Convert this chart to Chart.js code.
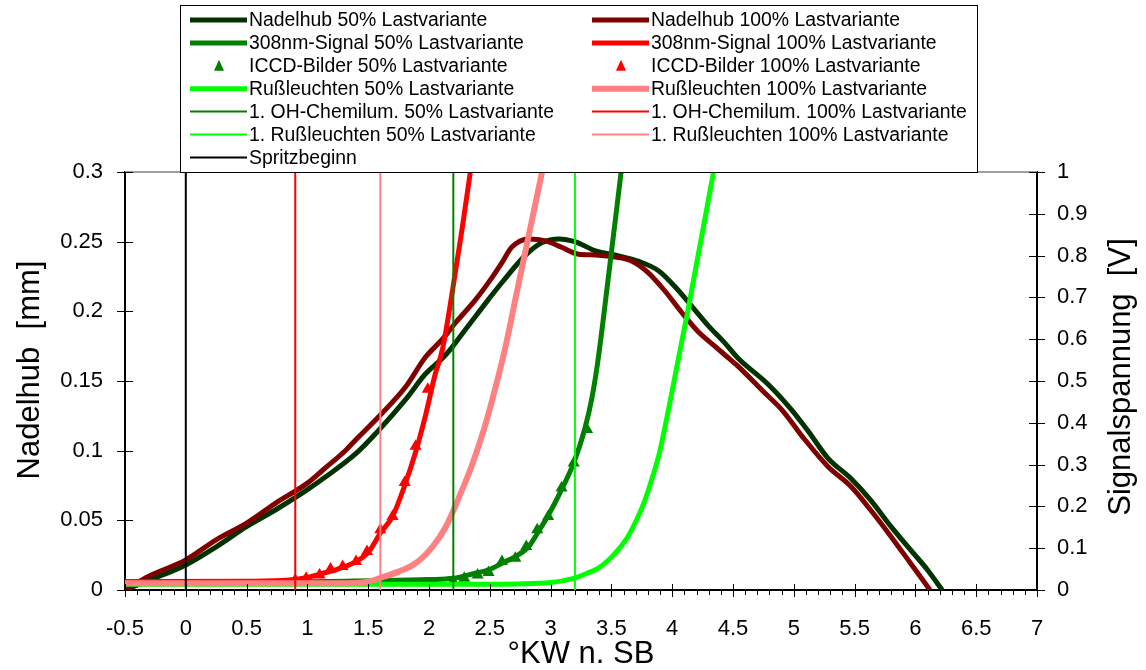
<!DOCTYPE html>
<html lang="de">
<head>
<meta charset="UTF-8">
<title>Nadelhub und Signalspannung</title>
<script src="https://cdn.jsdelivr.net/npm/chart.js"></script>
<style>
    body { margin: 0; background: #fff; }
    #wrap { width: 1146px; height: 670px; position: relative; }
</style>
</head>
<body>
<div id="wrap"><canvas id="chart"></canvas></div>
<script>
    // axis ticks
    const xTicks = [-0.5, 0, 0.5, 1, 1.5, 2, 2.5, 3, 3.5, 4, 4.5, 5, 5.5, 6, 6.5, 7];
    const mmTicks = [0, 0.05, 0.1, 0.15, 0.2, 0.25, 0.3];
    const vTicks = [0, 0.1, 0.2, 0.3, 0.4, 0.5, 0.6, 0.7, 0.8, 0.9, 1];

    // Nadelhub [mm] over °KW n. SB
    const nadelhub50 = [[-0.5,0],[-0.3,0.007],[0,0.018],[0.25,0.031],[0.5,0.0455],[0.74,0.0576],[1.0,0.072],[1.13,0.08],
        [1.4,0.098],[1.59,0.115],[1.81,0.137],[1.97,0.155],[2.14,0.169],[2.3,0.187],[2.49,0.2086],[2.6,0.2207],[2.79,0.24],
        [2.93,0.2494],[3.07,0.252],[3.2,0.25],[3.37,0.2434],[3.56,0.2398],[3.72,0.236],[3.89,0.229],[4.02,0.218],[4.16,0.2038],
        [4.3,0.1894],[4.43,0.1775],[4.54,0.1665],[4.79,0.1475],[4.98,0.1295],[5.11,0.115],[5.28,0.0947],[5.47,0.08],
        [5.63,0.0647],[5.8,0.0455],[5.96,0.0288],[6.1,0.0144],[6.22,0]];
    const nadelhub100 = [[-0.5,0],[-0.3,0.01],[0,0.0216],[0.25,0.036],[0.5,0.048],[0.74,0.0624],[1.0,0.0767],[1.13,0.0863],
        [1.32,0.1007],[1.4,0.108],[1.59,0.1247],[1.81,0.146],[1.97,0.167],[2.11,0.18],[2.22,0.192],[2.38,0.208],[2.5,0.222],
        [2.6,0.235],[2.68,0.246],[2.82,0.252],[2.96,0.2506],[3.09,0.246],[3.23,0.241],[3.37,0.2405],[3.56,0.2386],[3.67,0.236],
        [3.8,0.228],[3.94,0.2146],[4.08,0.199],[4.21,0.1857],[4.35,0.175],[4.46,0.1667],[4.54,0.1607],[4.76,0.1415],
        [4.9,0.1295],[5.09,0.108],[5.28,0.0887],[5.47,0.0743],[5.63,0.0576],[5.8,0.0383],[5.96,0.0192],[6.12,0]];

    // Signalspannung [V]
    const sig308_50 = [[-0.5,0.02],[1.0,0.02],[1.5,0.022],[2.0,0.025],[2.2,0.028],[2.38,0.04],[2.49,0.048],[2.6,0.064],
        [2.71,0.08],[2.82,0.104],[2.9,0.14],[2.98,0.178],[3.09,0.24],[3.19,0.304],[3.28,0.384],[3.34,0.46],[3.39,0.55],
        [3.48,0.76],[3.58,1.0]];
    const sig308_100 = [[-0.5,0.02],[0.5,0.021],[0.85,0.024],[1.0,0.03],[1.13,0.04],[1.25,0.05],[1.4,0.068],[1.5,0.09],
        [1.6,0.136],[1.7,0.176],[1.8,0.25],[1.89,0.33],[1.97,0.416],[2.05,0.515],[2.11,0.575],[2.19,0.71],[2.27,0.86],[2.34,1.0]];
    const iccd50 = [[2.2,0.02],[2.29,0.028],[2.4,0.036],[2.49,0.042],[2.6,0.068],[2.71,0.076],[2.8,0.104],[2.89,0.144],
        [2.98,0.176],[3.09,0.244],[3.19,0.304],[3.3,0.384]];
    const iccd100 = [[0.9,0.024],[0.99,0.028],[1.1,0.036],[1.19,0.05],[1.29,0.056],[1.4,0.068],[1.49,0.092],[1.6,0.144],
        [1.7,0.176],[1.8,0.257],[1.89,0.344],[1.99,0.48]];
    const russ50 = [[-0.5,0.014],[2.5,0.014],[3.0,0.018],[3.19,0.028],[3.3,0.04],[3.39,0.052],[3.47,0.07],[3.55,0.094],
        [3.64,0.13],[3.72,0.176],[3.78,0.218],[3.84,0.272],[3.89,0.322],[3.97,0.432],[4.05,0.552],[4.13,0.67],[4.34,1.0]];
    const russ100 = [[-0.5,0.016],[1.0,0.016],[1.4,0.017],[1.5,0.02],[1.59,0.028],[1.75,0.044],[1.89,0.064],[2.03,0.104],
        [2.14,0.152],[2.25,0.224],[2.36,0.304],[2.46,0.392],[2.55,0.488],[2.63,0.583],[2.71,0.695],[2.93,1.0]];

    // Zeitpunkte (°KW n. SB)
    const ohStart50 = 2.2, ohStart100 = 0.9;
    const russStart50 = 3.2, russStart100 = 1.6;
    const spritzbeginn = 0;

    const pts = arr => arr.map(([x, y]) => ({x, y}));
    const vline = v => [{x: v, y: 0}, {x: v, y: 1}];

    function curve(label, data, color, width, axis) {
        return { label, data: pts(data), borderColor: color, backgroundColor: color, borderWidth: width,
            pointRadius: 0, cubicInterpolationMode: 'monotone', yAxisID: axis, kind: 'line' };
    }
    function marks(label, data, color) {
        return { label, data: pts(data), borderColor: color, backgroundColor: color, showLine: false,
            pointStyle: 'triangle', pointRadius: 7, pointBorderWidth: 0, yAxisID: 'yR', kind: 'tri' };
    }
    function marker(label, v, color) {
        return { label, data: vline(v), borderColor: color, backgroundColor: color, borderWidth: 2,
            pointRadius: 0, tension: 0, yAxisID: 'yR', kind: 'line' };
    }

    const datasets = [
        curve('Nadelhub 50% Lastvariante', nadelhub50, '#003300', 5, 'yL'),
        curve('Nadelhub 100% Lastvariante', nadelhub100, '#800000', 5, 'yL'),
        curve('308nm-Signal 50% Lastvariante', sig308_50, '#008000', 5, 'yR'),
        curve('308nm-Signal 100% Lastvariante', sig308_100, '#ff0000', 5, 'yR'),
        marks('ICCD-Bilder 50% Lastvariante', iccd50, '#008000'),
        marks('ICCD-Bilder 100% Lastvariante', iccd100, '#ff0000'),
        curve('Rußleuchten 50% Lastvariante', russ50, '#00ff00', 5, 'yR'),
        curve('Rußleuchten 100% Lastvariante', russ100, '#ff8080', 6, 'yR'),
        marker('1. OH-Chemilum. 50% Lastvariante', ohStart50, '#008000'),
        marker('1. OH-Chemilum. 100% Lastvariante', ohStart100, '#ff0000'),
        marker('1. Rußleuchten 50% Lastvariante', russStart50, '#00ff00'),
        marker('1. Rußleuchten 100% Lastvariante', russStart100, '#ff8080'),
        marker('Spritzbeginn', spritzbeginn, '#000000')
    ];
    // later series on top, like the original
    datasets.forEach((d, i) => { d.order = -i; });

    const FONT = "'Liberation Sans', Arial, sans-serif";
    const fmt = v => String(Math.round(v * 100) / 100);

    function vTitle(ctx, text, x, y) {
        ctx.save();
        ctx.fillStyle = '#000';
        ctx.font = '31px ' + FONT;
        ctx.textAlign = 'center';
        ctx.textBaseline = 'middle';
        ctx.translate(x, y);
        ctx.rotate(-Math.PI / 2);
        ctx.fillText(text, 0, 0);
        ctx.restore();
    }

    // tick marks, top frame, axis titles and the boxed legend
    const frame = {
        id: 'frame',
        afterDraw(chart) {
            const {ctx, chartArea: a, scales: {x, yL, yR}} = chart;
            ctx.save();
            ctx.strokeStyle = '#a0a0a0';
            ctx.lineWidth = 2;
            ctx.beginPath();
            ctx.moveTo(a.left, a.top);
            ctx.lineTo(a.right, a.top);
            ctx.stroke();

            ctx.strokeStyle = '#000';
            ctx.lineWidth = 1;
            ctx.beginPath();
            for (let k = -5; k <= 70; k++) {
                const px = Math.round(x.getPixelForValue(k / 10)) + 0.5;
                ctx.moveTo(px, a.bottom);
                ctx.lineTo(px, a.bottom + 5);
            }
            xTicks.forEach(v => {
                const px = Math.round(x.getPixelForValue(v)) + 0.5;
                ctx.moveTo(px, a.bottom - 6);
                ctx.lineTo(px, a.bottom + 7);
            });
            mmTicks.forEach(v => {
                const py = Math.round(yL.getPixelForValue(v)) + 0.5;
                ctx.moveTo(a.left - 8, py);
                ctx.lineTo(a.left + 8, py);
            });
            vTicks.forEach(v => {
                const py = Math.round(yR.getPixelForValue(v)) + 0.5;
                ctx.moveTo(a.right - 8, py);
                ctx.lineTo(a.right + 8, py);
            });
            ctx.stroke();
            ctx.restore();

            vTitle(ctx, 'Nadelhub  [mm]', 30, 370);
            vTitle(ctx, 'Signalspannung  [V]', 1121, 377);

            // legend
            ctx.save();
            ctx.fillStyle = '#fff';
            ctx.fillRect(180, 5, 798, 167);
            ctx.strokeStyle = '#000';
            ctx.lineWidth = 1;
            ctx.strokeRect(180.5, 5.5, 797, 167);
            ctx.font = '19.4px ' + FONT;
            ctx.textBaseline = 'middle';
            ctx.textAlign = 'left';
            chart.data.datasets.forEach((d, i) => {
                const col = i < 12 ? i % 2 : 0;
                const row = i < 12 ? Math.floor(i / 2) : 6;
                const x0 = col === 0 ? 190 : 592;
                const y0 = 20 + row * 22.9;
                if (d.kind === 'tri') {
                    const cx = x0 + 29;
                    ctx.fillStyle = d.borderColor;
                    ctx.beginPath();
                    ctx.moveTo(cx, y0 - 6);
                    ctx.lineTo(cx + 5, y0 + 5);
                    ctx.lineTo(cx - 5, y0 + 5);
                    ctx.closePath();
                    ctx.fill();
                } else {
                    ctx.strokeStyle = d.borderColor;
                    ctx.lineWidth = d.borderWidth;
                    ctx.beginPath();
                    ctx.moveTo(x0, y0);
                    ctx.lineTo(x0 + 57, y0);
                    ctx.stroke();
                }
                ctx.fillStyle = '#000';
                ctx.fillText(d.label, x0 + 59, y0 + 1);
            });
            ctx.restore();
        }
    };

    new Chart(document.getElementById('chart').getContext('2d'), {
        type: 'line',
        data: { datasets },
        options: {
            responsive: true,
            maintainAspectRatio: false,
            animation: false,
            layout: { padding: { top: 172, left: 0, right: 0, bottom: 0 } },
            plugins: { legend: { display: false }, tooltip: { enabled: false } },
            scales: {
                x: {
                    type: 'linear', position: 'bottom', min: -0.5, max: 7,
                    afterBuildTicks: s => { s.ticks = xTicks.map(v => ({value: v})); },
                    afterFit: s => { s.height = 80; },
                    ticks: { font: { family: FONT, size: 22 }, color: '#000', padding: 26, maxRotation: 0, autoSkip: false, callback: fmt },
                    grid: { display: false, drawTicks: false },
                    border: { display: true, color: '#000', width: 2 },
                    title: { display: true, text: '°KW n. SB', color: '#000', font: { family: FONT, size: 31 }, padding: { top: 0, bottom: -3 } }
                },
                yL: {
                    type: 'linear', position: 'left', min: 0, max: 0.3,
                    afterBuildTicks: s => { s.ticks = mmTicks.map(v => ({value: v})); },
                    afterFit: s => { s.width = 125; },
                    ticks: { font: { family: FONT, size: 22 }, color: '#000', padding: 22, callback: fmt },
                    grid: { display: false, drawTicks: false },
                    border: { display: true, color: '#000', width: 2 }
                },
                yR: {
                    type: 'linear', position: 'right', min: 0, max: 1,
                    afterBuildTicks: s => { s.ticks = vTicks.map(v => ({value: v})); },
                    afterFit: s => { s.width = 109; },
                    ticks: { font: { family: FONT, size: 22 }, color: '#000', padding: 20, callback: fmt },
                    grid: { display: false, drawTicks: false },
                    border: { display: true, color: '#000', width: 2 }
                }
            }
        },
        plugins: [frame]
    });
</script>
</body>
</html>
